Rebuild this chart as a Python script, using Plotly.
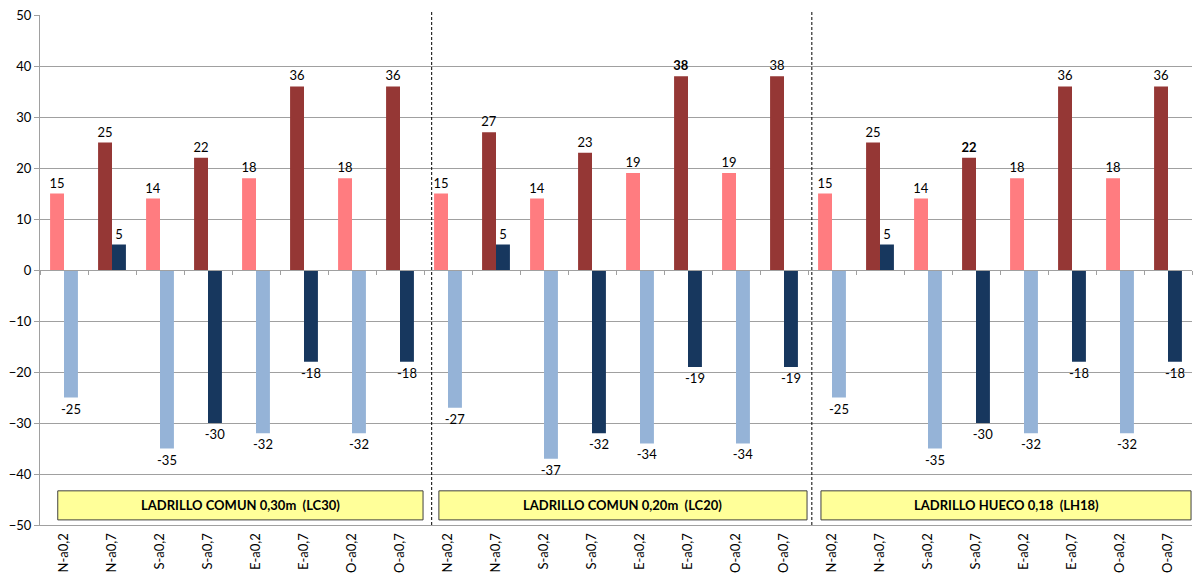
import plotly.graph_objects as go

# Orientation / absorptance combinations (repeated for each wall type)
categories = ["N-a0,2", "N-a0,7", "S-a0,2", "S-a0,7", "E-a0,2", "E-a0,7", "O-a0,2", "O-a0,7"] * 3

# Positive values (left bar of each pair)
upper_vals = [15, 25, 14, 22, 18, 36, 18, 36,
              15, 27, 14, 23, 19, 38, 19, 38,
              15, 25, 14, 22, 18, 36, 18, 36]
# Negative values (right bar of each pair)
lower_vals = [-25, 5, -35, -30, -32, -18, -32, -18,
              -27, 5, -37, -32, -34, -19, -34, -19,
              -25, 5, -35, -30, -32, -18, -32, -18]

# Labels shown in bold
bold_upper = [False] * 24
bold_upper[13] = True
bold_upper[19] = True

group_names = ["LADRILLO COMUN 0,30m  (LC30)", "LADRILLO COMUN 0,20m  (LC20)", "LADRILLO HUECO 0,18  (LH18)"]
group_box_x = [(-0.13, 7.48), (7.81, 15.48), (15.77, 23.48)]
separators_x = [7.66, 15.58]

PINK, DARK_RED = "#FF7C80", "#953735"
LIGHT_BLUE, DARK_BLUE = "#95B3D7", "#17375E"
FONT = "Lato, 'Liberation Sans', sans-serif"

x = list(range(len(categories)))
upper_colors = [PINK if "a0,2" in c else DARK_RED for c in categories]
lower_colors = [LIGHT_BLUE if "a0,2" in c else DARK_BLUE for c in categories]

def fmt(v, b=False):
    return f"<b>{v}</b>" if b else str(v)

fig = go.Figure()
fig.add_trace(go.Bar(
    x=x, y=upper_vals, marker=dict(color=upper_colors, line=dict(width=0)),
    text=[fmt(v, b) for v, b in zip(upper_vals, bold_upper)],
    textposition="outside", constraintext="none",
    textfont=dict(family=FONT, size=13, color="#000"),
    cliponaxis=False, showlegend=False,
))
fig.add_trace(go.Bar(
    x=x, y=lower_vals, marker=dict(color=lower_colors, line=dict(width=0)),
    text=[fmt(v) for v in lower_vals],
    textposition="outside", constraintext="none",
    textfont=dict(family=FONT, size=13, color="#000"),
    cliponaxis=False, showlegend=False,
))
# invisible trace that activates the axis drawn at y = 0
fig.add_trace(go.Scatter(x=x, y=[None] * len(x), xaxis="x2", yaxis="y",
                         showlegend=False, hoverinfo="skip"))

shapes = []
for x0 in separators_x:
    shapes.append(dict(type="line", xref="x", yref="paper", x0=x0, x1=x0, y0=0, y1=1.008,
                       line=dict(color="#000", width=1, dash="3px,2px")))
annotations = []
for (x0, x1), name in zip(group_box_x, group_names):
    shapes.append(dict(type="rect", xref="x", yref="y", x0=x0, x1=x1, y0=-49.0, y1=-43.3,
                       fillcolor="#FFFF99", line=dict(color="#404040", width=1)))
    annotations.append(dict(x=(x0 + x1) / 2, y=-46.15, xref="x", yref="y", text=f"<b>{name}</b>",
                            showarrow=False, font=dict(family=FONT, size=13, color="#000")))

fig.update_layout(
    width=1193, height=575,
    margin=dict(l=40, r=1, t=15, b=50),
    paper_bgcolor="white", plot_bgcolor="white",
    barmode="group", bargap=0.42, bargroupgap=0,
    shapes=shapes, annotations=annotations,
    xaxis=dict(range=[-0.5, 23.5], tickmode="array", tickvals=x, ticktext=categories,
               tickangle=-90, tickfont=dict(family=FONT, size=13, color="#000"),
               showgrid=False, zeroline=False, showline=True, linecolor="#A0A0A0",
               ticks="outside", ticklen=2, tickcolor="rgba(0,0,0,0)",
               automargin=False, fixedrange=True),
    xaxis2=dict(overlaying="x", anchor="free", position=0.5, range=[-0.5, 23.5],
                tickmode="array", tickvals=[i - 0.5 for i in range(25)],
                ticks="outside", ticklen=4, tickcolor="#A0A0A0",
                showticklabels=False, showgrid=False, zeroline=False,
                showline=True, linecolor="#A0A0A0"),
    yaxis=dict(range=[-50, 50], dtick=10, tick0=-50, showgrid=True, gridcolor="#A0A0A0",
               gridwidth=1, zeroline=False, showline=True, linecolor="#A0A0A0",
               ticks="outside", ticklen=5, tickcolor="#A0A0A0",
               tickfont=dict(family=FONT, size=13, color="#000"), fixedrange=True),
)

fig.write_html("out.html")
